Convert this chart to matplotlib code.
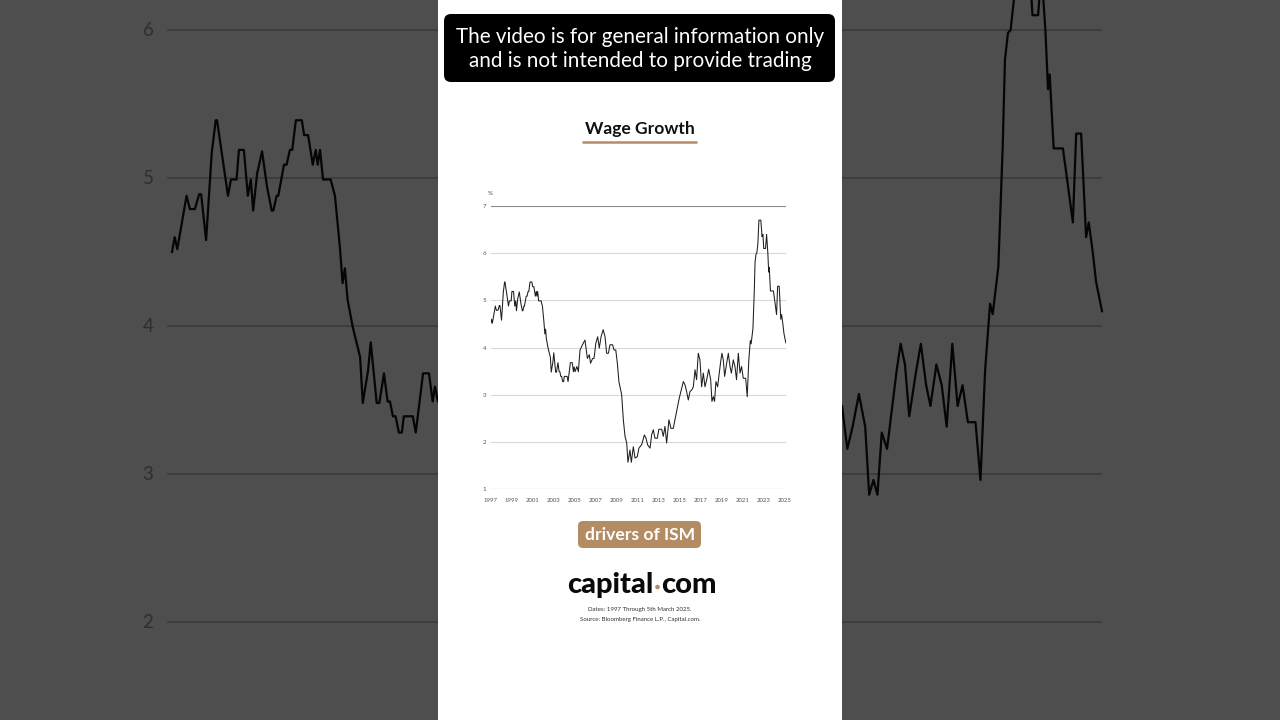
import matplotlib
matplotlib.use("Agg")
import matplotlib.pyplot as plt
from matplotlib.patches import Rectangle, FancyBboxPatch, Circle

plt.rcParams['font.family'] = ['Lato', 'DejaVu Sans']

# ---- data: Wage growth (%) ----
years = [1997.0, 1997.08, 1997.16, 1997.44, 1997.54, 1997.69, 1997.82, 1997.88, 1998.03, 1998.2,
         1998.32, 1998.36, 1998.69, 1998.78, 1998.95, 1999.02, 1999.17, 1999.29, 1999.38, 1999.45,
         1999.57, 1999.72, 1999.87, 2000.01, 2000.06, 2000.16, 2000.21, 2000.38, 2000.46, 2000.56,
         2000.63, 2000.74, 2000.92, 2000.99, 2001.11, 2001.25, 2001.34, 2001.4, 2001.47, 2001.56,
         2001.79, 2001.92, 2002.07, 2002.15, 2002.22, 2002.3, 2002.46, 2002.68, 2002.76, 2002.92,
         2003.0, 2003.18, 2003.26, 2003.4, 2003.51, 2003.58, 2003.67, 2003.75, 2003.85, 2003.94,
         2004.0, 2004.27, 2004.36, 2004.58, 2004.76, 2004.87, 2004.94, 2005.03, 2005.2, 2005.34,
         2005.5, 2005.8, 2005.97, 2006.2, 2006.38, 2006.5, 2006.7, 2006.83, 2007.0, 2007.18,
         2007.33, 2007.5, 2007.7, 2007.88, 2008.03, 2008.2, 2008.35, 2008.6, 2008.73, 2008.9,
         2009.05, 2009.2, 2009.3, 2009.46, 2009.62, 2009.78, 2009.94, 2010.06, 2010.25, 2010.38,
         2010.57, 2010.73, 2010.95, 2011.1, 2011.36, 2011.62, 2011.78, 2011.93, 2012.16, 2012.31,
         2012.47, 2012.63, 2012.85, 2013.0, 2013.27, 2013.42, 2013.58, 2013.74, 2013.96, 2014.15,
         2014.37, 2014.53, 2014.77, 2014.94, 2015.1, 2015.33, 2015.49, 2015.64, 2015.8, 2015.96,
         2016.12, 2016.28, 2016.44, 2016.59, 2016.75, 2016.91, 2017.07, 2017.23, 2017.39, 2017.55,
         2017.74, 2017.93, 2018.05, 2018.18, 2018.3, 2018.43, 2018.59, 2018.75, 2018.88, 2019.0,
         2019.13, 2019.26, 2019.45, 2019.61, 2019.77, 2019.9, 2020.08, 2020.24, 2020.39, 2020.56,
         2020.72, 2020.87, 2021.03, 2021.26, 2021.41, 2021.55, 2021.7, 2021.78, 2021.95, 2022.08,
         2022.15, 2022.24, 2022.32, 2022.42, 2022.52, 2022.7, 2022.82, 2022.9, 2022.98, 2023.15,
         2023.25, 2023.37, 2023.45, 2023.5, 2023.62, 2023.9, 2024.02, 2024.2, 2024.3, 2024.45,
         2024.6, 2024.68, 2024.8, 2024.9, 2025.08]
wage_growth = [4.5, 4.6, 4.52, 4.88, 4.79, 4.79, 4.89, 4.89, 4.58, 5.17,
               5.39, 5.39, 4.88, 4.99, 4.99, 5.19, 5.19, 4.88, 4.99, 4.78,
               5.03, 5.18, 4.94, 4.78, 4.78, 4.88, 4.88, 5.09, 5.09, 5.19,
               5.19, 5.39, 5.39, 5.29, 5.29, 5.09, 5.19, 5.09, 5.19, 4.99,
               4.99, 4.88, 4.53, 4.29, 4.39, 4.18, 3.99, 3.79, 3.48, 3.7,
               3.89, 3.48, 3.48, 3.68, 3.49, 3.49, 3.39, 3.39, 3.28, 3.28,
               3.39, 3.39, 3.28, 3.68, 3.68, 3.49, 3.59, 3.49, 3.6, 3.49,
               3.95, 4.09, 4.16, 3.77, 3.85, 3.67, 3.77, 3.77, 4.09, 4.23,
               3.99, 4.23, 4.38, 4.23, 3.88, 3.88, 4.06, 4.06, 3.95, 3.95,
               3.67, 3.28, 3.17, 3.0, 2.47, 2.12, 1.98, 1.57, 1.83, 1.57,
               1.9, 1.66, 1.69, 1.87, 1.94, 2.15, 2.08, 1.94, 1.87, 2.15,
               2.26, 2.08, 2.08, 2.27, 2.27, 2.12, 2.33, 1.98, 2.47, 2.29,
               2.29, 2.47, 2.75, 2.93, 3.07, 3.28, 3.21, 3.07, 2.89, 3.07,
               3.1, 3.17, 3.53, 3.32, 3.88, 3.74, 3.17, 3.46, 3.17, 3.32,
               3.54, 3.32, 2.86, 2.96, 2.86, 3.28, 3.17, 3.46, 3.7, 3.88,
               3.74, 3.39, 3.67, 3.88, 3.6, 3.46, 3.74, 3.6, 3.32, 3.88,
               3.46, 3.6, 3.35, 3.35, 2.96, 3.7, 4.15, 4.08, 4.4, 5.2,
               5.8, 5.98, 6.0, 6.2, 6.7, 6.7, 6.35, 6.4, 6.1, 6.1,
               6.4, 6.0, 5.6, 5.7, 5.2, 5.2, 5.0, 4.7, 5.3, 5.3,
               4.6, 4.7, 4.5, 4.3, 4.1]
y_ticks = [1, 2, 3, 4, 5, 6, 7]
x_ticks = list(range(1997, 2026, 2))

W, H = 1280, 720
fig = plt.figure(figsize=(12.8, 7.2), dpi=100)
fig.patch.set_facecolor('#4e4e4e')

def px_axes(left, top, right, bottom, **kw):
    return fig.add_axes([left / W, 1 - bottom / H, (right - left) / W, (bottom - top) / H], **kw)

# ---- darkened, enlarged background copy of the chart ----
bg = px_axes(0, 0, W, H, zorder=0)
bg.set_facecolor('#4e4e4e')
bx0, bppy = 172.0, 33.12       # px of 1997, px per year
by6, bppv = 30.0, 148.0        # px of value 6, px per unit
ylo, yhi = 6 - (H - by6) / bppv, 6 + by6 / bppv
bg.set_xlim(1997 - bx0 / bppy, 1997 + (W - bx0) / bppy)
bg.set_ylim(ylo, yhi)
for v in y_ticks:
    bg.plot([1997 - 4 / bppy, 1997 + 929 / bppy], [v, v], color='#3c3c3c', lw=1.3, zorder=1)
    if ylo + 0.1 < v < yhi - 0.1:
        bg.text(1997 - 24 / bppy, v, str(v), ha='center', va='center', fontsize=13.5,
                color='#2e2e2e')
bg.plot(years, wage_growth, color='#050505', lw=1.6, zorder=2)
for s in bg.spines.values():
    s.set_visible(False)
bg.set_xticks([])
bg.set_yticks([])

# ---- white centre panel ----
fig.add_artist(Rectangle((438 / W, 0), (842 - 438) / W, 1, transform=fig.transFigure,
                         facecolor='white', edgecolor='none', zorder=1))

# ---- centre chart ----
x0, ppy = 490.7, 10.51
ytop, ppv = 206.0, 47.2
xr = 2025.1
ax = px_axes(x0, ytop, x0 + (xr - 1997) * ppy, ytop + 6 * ppv, zorder=2)
ax.set_xlim(1997, xr)
ax.set_ylim(1, 7)
ax.patch.set_visible(False)
for s in ax.spines.values():
    s.set_visible(False)
for v in y_ticks:
    if v in (1, 7):
        ax.axhline(v, color='#8a8a8a', lw=0.8, zorder=1)
    else:
        ax.axhline(v, color='#d8d8d8', lw=0.8, zorder=1)
ax.plot(years, wage_growth, color='#1e1e1e', lw=0.75, zorder=3)
ax.set_yticks(y_ticks)
ax.set_yticklabels([str(v) for v in y_ticks])
ax.set_xticks(x_ticks)
ax.set_xticklabels([str(v) for v in x_ticks])
ax.tick_params(axis='y', length=0, pad=3, labelsize=4.5, labelcolor='#555555')
ax.tick_params(axis='x', length=0, pad=6.5, labelsize=4.3, labelcolor='#555555')
ax.text(-0.01, 1.04, '%', transform=ax.transAxes, fontsize=4.5, color='#444444', ha='left')

# ---- overlay (pixel coordinates) for decorations and text ----
ov = px_axes(0, 0, W, H, zorder=3)
ov.set_xlim(0, W)
ov.set_ylim(H, 0)
ov.axis('off')

ov.add_patch(FancyBboxPatch((444, 14), 391, 68, boxstyle='round,pad=0,rounding_size=7',
                            facecolor='black', edgecolor='none'))
ov.text(640, 37, 'The video is for general information only', ha='center', va='center',
        fontsize=14.9, color='white')
ov.text(640, 61, 'and is not intended to provide trading', ha='center', va='center',
        fontsize=14.9, color='white')

ov.text(640, 129, 'Wage Growth', ha='center', va='center', fontsize=12.6,
        fontweight='bold', color='#111111')
ov.plot([582, 697], [142, 142], color='#b48c64', lw=1.8, solid_capstyle='butt')

ov.add_patch(FancyBboxPatch((578, 521), 123, 27, boxstyle='round,pad=0,rounding_size=5',
                            facecolor='#b48c64', edgecolor='none'))
ov.text(640, 535, 'drivers of ISM', ha='center', va='center', fontsize=12.6,
        fontweight='bold', color='white')

ov.text(654, 593, 'capital', ha='right', va='baseline', fontsize=21,
        fontweight='black', color='#0a0a0a')
ov.add_patch(Circle((657.5, 587), 2.3, facecolor='#b48c64', edgecolor='none'))
ov.text(661, 593, 'com', ha='left', va='baseline', fontsize=21,
        fontweight='black', color='#0a0a0a')

ov.text(640, 610, 'Dates: 1997 Through 5th March 2025.', ha='center', va='center',
        fontsize=4.4, color='#333333')
ov.text(640, 620, 'Source: Bloomberg Finance L.P., Capital.com.', ha='center', va='center',
        fontsize=4.4, color='#333333')

fig.savefig('out.png', dpi=100, facecolor=fig.get_facecolor())
